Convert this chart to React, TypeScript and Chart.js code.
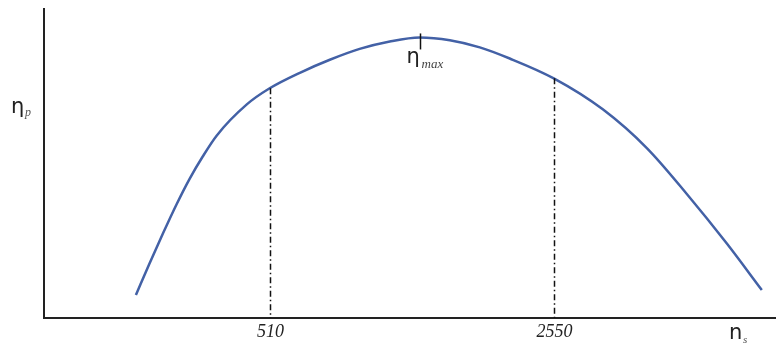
import React, { useEffect, useRef } from "react";
import { Chart, registerables } from "chart.js";

Chart.register(...registerables);

// Specific speed n_s (log axis) and pump efficiency η_p (relative units, 0–100)
const nsValues = [239, 258, 278, 301, 324, 349, 378, 448, 510, 605, 717, 849, 1007, 1193, 1415, 1677, 1987, 2550, 3366, 4320, 5418, 6797, 8287];
const etaValues = [7.4, 17.5, 27.0, 36.7, 44.9, 52.1, 58.9, 68.9, 74.1, 79.1, 83.3, 86.8, 89.2, 90.5, 89.6, 87.3, 83.7, 77.3, 67.3, 54.8, 40.0, 24.0, 9.0];

// Marked bounds of the operating range and the optimum point
const rangeTicks = [510, 2550];
const rangeLabels = ["510", "2550"];
const peakNs = 1193;

const NS_MIN = 142;
const NS_MAX = 8980;
const ETA_MIN = 0;
const ETA_MAX = 100;

const etaAt = (ns: number) => etaValues[nsValues.indexOf(ns)];

const annotate = {
  id: "annotate",
  afterDatasetsDraw(chart: any) {
    const { ctx, chartArea, scales } = chart;
    const xs = scales.x;
    const ys = scales.y;
    ctx.save();

    // axes
    ctx.strokeStyle = "#222";
    ctx.lineWidth = 2;
    ctx.beginPath();
    ctx.moveTo(chartArea.left, chartArea.top);
    ctx.lineTo(chartArea.left, chartArea.bottom);
    ctx.lineTo(chartArea.right, chartArea.bottom);
    ctx.stroke();

    // dash-dot drop lines and their labels
    rangeTicks.forEach((v, i) => {
      const x = Math.round(xs.getPixelForValue(v)) + 0.5;
      const yTop = ys.getPixelForValue(etaAt(v));
      ctx.strokeStyle = "#111";
      ctx.lineWidth = 1.5;
      ctx.setLineDash([6, 3, 1.5, 3]);
      ctx.beginPath();
      ctx.moveTo(x, yTop);
      ctx.lineTo(x, chartArea.bottom);
      ctx.stroke();
      ctx.setLineDash([]);

      ctx.fillStyle = "#222";
      ctx.font = "italic 18px 'Liberation Serif'";
      ctx.textAlign = "center";
      ctx.textBaseline = "alphabetic";
      ctx.fillText(rangeLabels[i], x, chartArea.bottom + 19);
    });

    // peak marker
    const px = Math.round(xs.getPixelForValue(peakNs)) + 0.5;
    const py = ys.getPixelForValue(etaAt(peakNs));
    ctx.strokeStyle = "#111";
    ctx.lineWidth = 1.5;
    ctx.beginPath();
    ctx.moveTo(px, py - 4);
    ctx.lineTo(px, py + 12);
    ctx.stroke();

    ctx.fillStyle = "#222";
    ctx.textAlign = "left";
    ctx.font = "21px 'DejaVu Sans'";
    ctx.fillText("η", px - 14, py + 26);
    ctx.fillStyle = "#444";
    ctx.font = "italic 13px 'Liberation Serif'";
    ctx.fillText("max", px + 1, py + 31);

    // axis titles
    ctx.fillStyle = "#222";
    ctx.font = "21px 'DejaVu Sans'";
    ctx.fillText("η", 11, 113);
    ctx.fillStyle = "#555";
    ctx.font = "italic 12px 'Liberation Serif'";
    ctx.fillText("p", 25, 116);

    ctx.fillStyle = "#222";
    ctx.font = "21px 'DejaVu Sans'";
    ctx.fillText("n", 729, chartArea.bottom + 21);
    ctx.fillStyle = "#555";
    ctx.font = "italic 11px 'Liberation Serif'";
    ctx.fillText("s", 743, chartArea.bottom + 25);

    ctx.restore();
  },
};

export default function App() {
  const canvasRef = useRef<HTMLCanvasElement | null>(null);

  useEffect(() => {
    if (!canvasRef.current) return;
    const chart = new Chart(canvasRef.current, {
      type: "line",
      data: {
        datasets: [
          {
            data: nsValues.map((x, i) => ({ x, y: etaValues[i] })),
            borderColor: "#4361a6",
            borderWidth: 2.5,
            pointRadius: 0,
            cubicInterpolationMode: "monotone",
            fill: false,
          },
        ],
      },
      options: {
        animation: false,
        responsive: true,
        maintainAspectRatio: false,
        layout: { padding: { left: 44, top: 8, right: 0, bottom: 33 } },
        plugins: { legend: { display: false }, tooltip: { enabled: false } },
        scales: {
          x: { type: "logarithmic", min: NS_MIN, max: NS_MAX, display: false },
          y: { type: "linear", min: ETA_MIN, max: ETA_MAX, display: false },
        },
      },
      plugins: [annotate],
    });
    return () => chart.destroy();
  }, []);

  return (
    <div style={{ position: "fixed", left: 0, top: 0, width: 776, height: 351, background: "#fff" }}>
      <canvas ref={canvasRef} />
    </div>
  );
}
